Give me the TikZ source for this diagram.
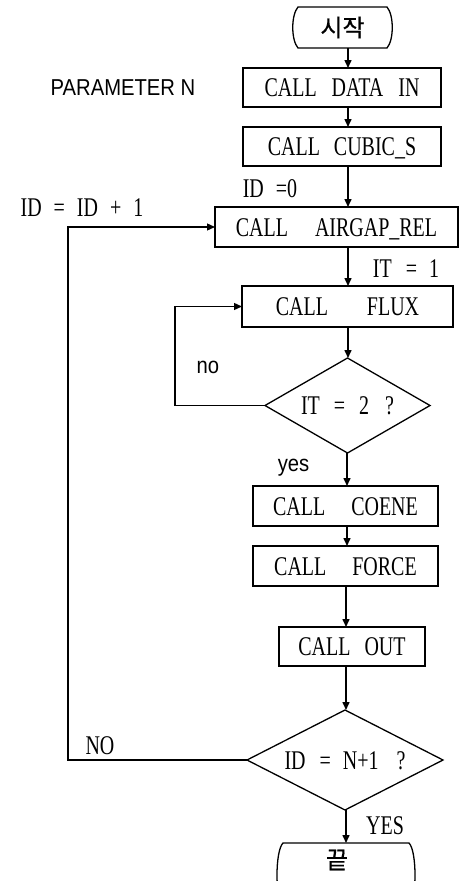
\documentclass[tikz,border=0pt]{standalone}
\usepackage{fontspec}
\setmainfont{Liberation Serif}[FakeStretch=0.74]
\newfontfamily\sansf{Liberation Sans}[FakeStretch=0.88]
\newfontfamily\krf{Noto Sans CJK KR}[FakeBold=0.6]
\usetikzlibrary{shapes.geometric,arrows.meta,calc}
\newcommand\myterm[2]{\draw[line width=1.3pt] ([xshift=#2]#1.north west) -- ([xshift=-#2]#1.north east) .. controls ([xshift=2pt,yshift=-8pt]#1.north east) and ([xshift=2pt,yshift=8pt]#1.south east) .. ([xshift=-#2]#1.south east) -- ([xshift=#2]#1.south west) .. controls ([xshift=-2pt,yshift=8pt]#1.south west) and ([xshift=-2pt,yshift=-8pt]#1.north west) .. cycle;}
\begin{document}
\begin{tikzpicture}[x=1pt,y=-1pt,
  every node/.style={font=\fontsize{27}{30}\selectfont, inner sep=0pt, outer sep=0pt},
  box/.style={draw, line width=1.3pt, text height=18pt, text depth=0pt},
  term/.style={text height=18pt, text depth=0pt},
  dec/.style={draw, diamond, line width=1.3pt, text height=18pt, text depth=0pt},
  lab/.style={text height=18pt, text depth=0pt},
  labsans/.style={font=\sansf\fontsize{23}{26}\selectfont},
  arr/.style={line width=1.5pt, -{Triangle[length=8pt,width=7pt]}},
  loop/.style={line width=1.3pt, -{Triangle[length=8pt,width=7pt]}},
]
\useasboundingbox (0,0) rectangle (468,881);
\begin{scope}
\clip (0,0) rectangle (468,881);
% columns for vertical connectors
\coordinate (cA) at (348,0);
\coordinate (cB) at (347,0);
\coordinate (cC) at (346,0);
\coordinate (cNo) at (175,0);
\coordinate (cNO) at (68,0);

\node[term, minimum width=99pt, minimum height=41pt] (start) at (342.5,27.5) {\krf\fontsize{24}{26}\selectfont 시작};
\myterm{start}{5pt}

\node[box, minimum width=198pt, minimum height=39pt] (data) at (342,87.5) {CALL\hspace{15pt}DATA\hspace{15pt}IN};
\node[box, minimum width=198pt, minimum height=39pt] (cubic) at (342,146.5) {CALL\hspace{14pt}CUBIC\_S};
\node[box, minimum width=243pt, minimum height=40pt] (airgap) at (336.5,227) {CALL\hspace{27pt}AIRGAP\_REL};
\node[box, minimum width=211pt, minimum height=41pt] (flux) at (347.5,306.5) {CALL\hspace{39pt}FLUX};
\node[dec, aspect=1.737, minimum width=165pt, minimum height=95pt] (d1) at (347.5,405.5) {IT\hspace{14pt}=\hspace{14pt}2\hspace{16pt}?};
\node[box, minimum width=185pt, minimum height=40pt] (coene) at (345.5,506) {CALL\hspace{26pt}COENE};
\node[box, minimum width=185pt, minimum height=40pt] (force) at (345.5,566) {CALL\hspace{26pt}FORCE};
\node[box, minimum width=146pt, minimum height=39pt] (out) at (352,646.5) {CALL\hspace{14pt}OUT};
\node[dec, aspect=1.96, minimum width=196pt, minimum height=100pt] (d2) at (345,760) {ID\hspace{14pt}=\hspace{12pt}N+1\hspace{18pt}?};

\node[minimum width=138pt, minimum height=64pt] (end) at (346,875) {};
\myterm{end}{6pt}
\node (endtext) at (337,860) {\krf\fontsize{24}{26}\selectfont 끝};

% labels
\node[labsans] (param) at (123,88) {PARAMETER N};
\node[lab] (id0) at (270,188) {ID\hspace{12pt}=0};
\node[lab] (idinc) at (82,207) {ID\hspace{12pt}=\hspace{12pt}ID\hspace{12pt}+\hspace{12pt}1};
\node[lab] (it1) at (406,268) {IT\hspace{14pt}=\hspace{12pt}1};
\node[labsans] (nolab) at (208,367) {no};
\node[labsans] (yeslab) at (293.5,468) {yes};
\node[lab] (NOlab) at (100,745) {NO};
\node[lab] (YESlab) at (385,825) {YES};

% connectors
\draw[arr] (start.south -| cA) -- (data.north -| cA);
\draw[arr] (data.south -| cA) -- (cubic.north -| cA);
\draw[arr] (cubic.south -| cA) -- (airgap.north -| cA);
\draw[arr] (airgap.south -| cA) -- (flux.north -| cA);
\draw[arr] (flux.south -| cA) -- (d1.north -| cA);
\draw[arr] (d1.south -| cB) -- (coene.north -| cB);
\draw[arr] (coene.south -| cB) -- (force.north -| cB);
\draw[arr] (force.south -| cC) -- (out.north -| cC);
\draw[arr] (out.south -| cC) -- (d2.north -| cC);
\draw[arr] (d2.south -| cC) -- (end.north -| cC);
\draw[loop] (d1.west) -- (d1.west -| cNo) |- (flux.west);
\draw[loop] (d2.west) -- (d2.west -| cNO) |- (airgap.west);
\end{scope}
\end{tikzpicture}
\end{document}
